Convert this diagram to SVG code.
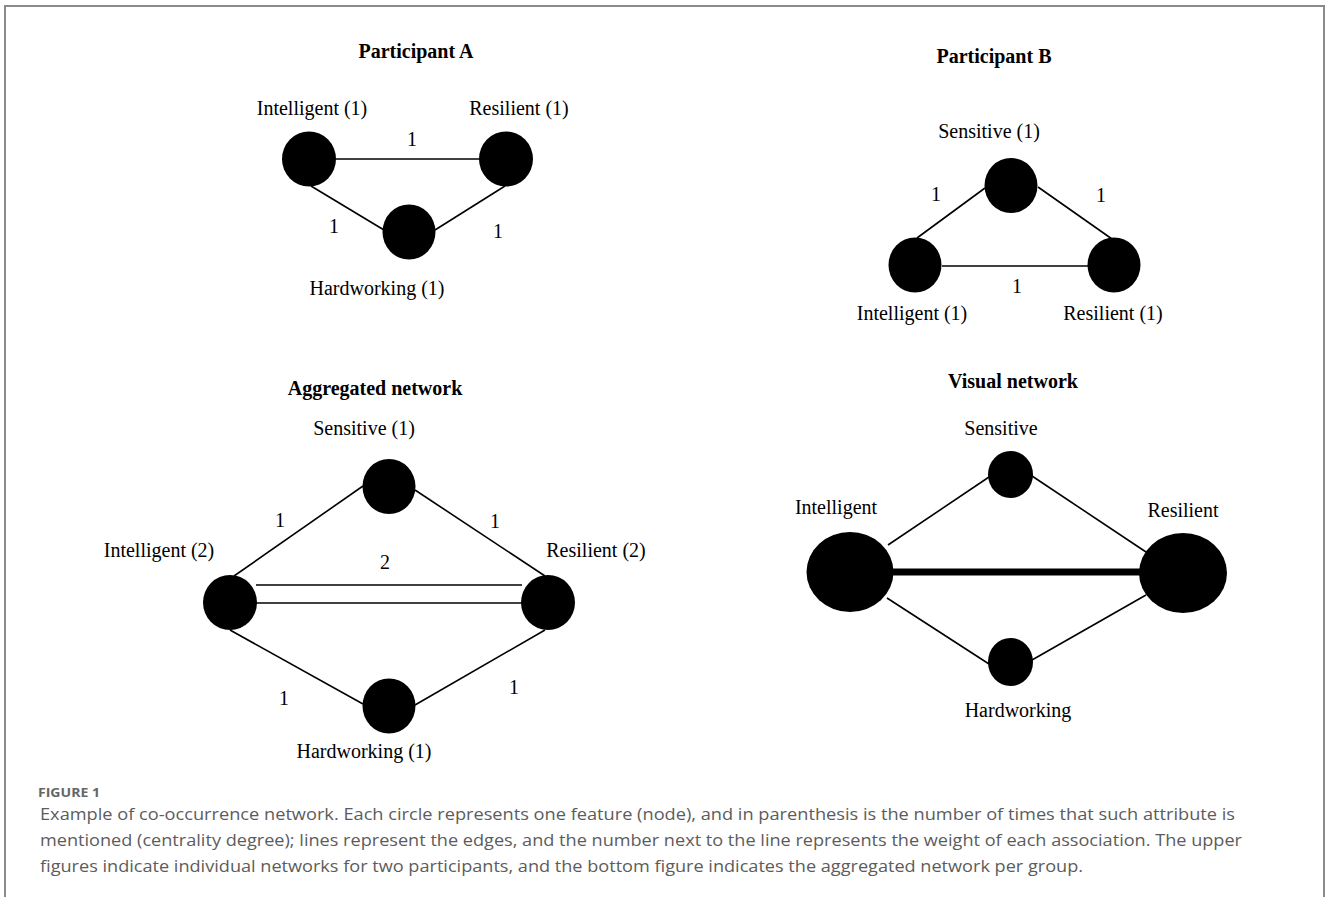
<svg xmlns="http://www.w3.org/2000/svg" width="1328" height="897" viewBox="0 0 1328 897">
<style>
.t{font-family:"Liberation Serif","Times New Roman",serif;font-size:20px;fill:#000;text-anchor:middle}
.h{font-family:"Liberation Serif","Times New Roman",serif;font-size:20px;font-weight:bold;fill:#000;text-anchor:middle}
.e{stroke:#000;stroke-width:1.6;fill:none}
.n{fill:#000}
.cap{font-family:"Open Sans","Noto Sans",sans-serif;font-size:16px;fill:#5c5c5c}
.fig{font-family:"Open Sans","Noto Sans",sans-serif;font-size:13px;font-weight:bold;fill:#666}
</style>
<rect x="0" y="0" width="1328" height="897" fill="#fff"/>
<rect x="5" y="6" width="1319" height="900" fill="none" stroke="#8a8a8a" stroke-width="2"/>

<!-- Connectors -->
<g id="connectors">
  <!-- Participant A -->
  <line class="e" x1="336" y1="159" x2="479" y2="159"/>
  <line class="e" x1="311" y1="186" x2="384" y2="230"/>
  <line class="e" x1="505" y1="186" x2="435" y2="230"/>
  <!-- Participant B -->
  <line class="e" x1="985" y1="188" x2="917" y2="238"/>
  <line class="e" x1="1038" y1="187" x2="1112" y2="239"/>
  <line class="e" x1="942" y1="266" x2="1088" y2="266"/>
  <!-- Aggregated -->
  <line class="e" x1="234" y1="576" x2="363" y2="486"/>
  <line class="e" x1="415" y1="490" x2="545" y2="576"/>
  <line class="e" x1="230" y1="630" x2="363" y2="704"/>
  <line class="e" x1="415" y1="705" x2="545" y2="630"/>
  <line class="e" x1="256" y1="585" x2="522" y2="585"/>
  <line class="e" x1="256" y1="603" x2="522" y2="603"/>
  <!-- Visual -->
  <line class="e" x1="888" y1="545" x2="989" y2="477"/>
  <line class="e" x1="1032" y1="476" x2="1146" y2="552"/>
  <line class="e" x1="887" y1="598" x2="989" y2="664"/>
  <line class="e" x1="1032" y1="660" x2="1146" y2="595"/>
  <line stroke="#000" stroke-width="7" x1="890" y1="572" x2="1142" y2="572"/>
</g>

<!-- Edge weights -->
<g id="weights">
  <text class="t" x="412" y="146">1</text>
  <text class="t" x="334" y="233">1</text>
  <text class="t" x="498" y="238">1</text>
  <text class="t" x="936" y="201">1</text>
  <text class="t" x="1101" y="202">1</text>
  <text class="t" x="1017" y="293">1</text>
  <text class="t" x="280" y="527">1</text>
  <text class="t" x="495" y="528">1</text>
  <text class="t" x="385" y="569">2</text>
  <text class="t" x="284" y="705">1</text>
  <text class="t" x="514" y="694">1</text>
</g>

<!-- Titles -->
<g id="titles">
  <text class="h" x="416" y="58">Participant A</text>
  <text class="h" x="994" y="63">Participant B</text>
  <text class="h" x="375" y="395">Aggregated network</text>
  <text class="h" x="1013" y="388">Visual network</text>
</g>

<!-- Participant A nodes -->
<g id="a-intelligent"><ellipse class="n" cx="309" cy="159" rx="27" ry="27.5"/><text class="t" x="312" y="115">Intelligent (1)</text></g>
<g id="a-resilient"><ellipse class="n" cx="506" cy="159" rx="27" ry="27.5"/><text class="t" x="519" y="115">Resilient (1)</text></g>
<g id="a-hardworking"><ellipse class="n" cx="409" cy="232" rx="26.5" ry="27.5"/><text class="t" x="377" y="295">Hardworking (1)</text></g>

<!-- Participant B nodes -->
<g id="b-sensitive"><ellipse class="n" cx="1011" cy="185.5" rx="26.5" ry="27.5"/><text class="t" x="989" y="138">Sensitive (1)</text></g>
<g id="b-intelligent"><ellipse class="n" cx="915" cy="265" rx="26.5" ry="27.5"/><text class="t" x="912" y="320">Intelligent (1)</text></g>
<g id="b-resilient"><ellipse class="n" cx="1114" cy="265" rx="26.5" ry="27.5"/><text class="t" x="1113" y="320">Resilient (1)</text></g>

<!-- Aggregated nodes -->
<g id="g-sensitive"><ellipse class="n" cx="389" cy="486.5" rx="26.5" ry="27.5"/><text class="t" x="364" y="435">Sensitive (1)</text></g>
<g id="g-intelligent"><ellipse class="n" cx="230" cy="602.5" rx="27" ry="27.5"/><text class="t" x="159" y="557">Intelligent (2)</text></g>
<g id="g-resilient"><ellipse class="n" cx="548" cy="602.5" rx="27" ry="27.5"/><text class="t" x="596" y="557">Resilient (2)</text></g>
<g id="g-hardworking"><ellipse class="n" cx="389" cy="706" rx="26.5" ry="27.5"/><text class="t" x="364" y="758">Hardworking (1)</text></g>

<!-- Visual nodes -->
<g id="v-sensitive"><ellipse class="n" cx="1010.5" cy="474.5" rx="22.5" ry="23.5"/><text class="t" x="1001" y="435">Sensitive</text></g>
<g id="v-intelligent"><ellipse class="n" cx="850" cy="572" rx="43.5" ry="40"/><text class="t" x="836" y="514">Intelligent</text></g>
<g id="v-resilient"><ellipse class="n" cx="1183" cy="573" rx="44" ry="40"/><text class="t" x="1183" y="517">Resilient</text></g>
<g id="v-hardworking"><ellipse class="n" cx="1010.5" cy="662" rx="22.5" ry="24"/><text class="t" x="1018" y="717">Hardworking</text></g>

<!-- Caption -->
<g id="caption">
  <text class="fig" x="38" y="797" textLength="62" lengthAdjust="spacingAndGlyphs">FIGURE 1</text>
  <text class="cap" x="40" y="820" textLength="1195" lengthAdjust="spacingAndGlyphs">Example of co-occurrence network. Each circle represents one feature (node), and in parenthesis is the number of times that such attribute is</text>
  <text class="cap" x="40" y="846" textLength="1202" lengthAdjust="spacingAndGlyphs">mentioned (centrality degree); lines represent the edges, and the number next to the line represents the weight of each association. The upper</text>
  <text class="cap" x="40" y="872" textLength="1043" lengthAdjust="spacingAndGlyphs">figures indicate individual networks for two participants, and the bottom figure indicates the aggregated network per group.</text>
</g>
</svg>
